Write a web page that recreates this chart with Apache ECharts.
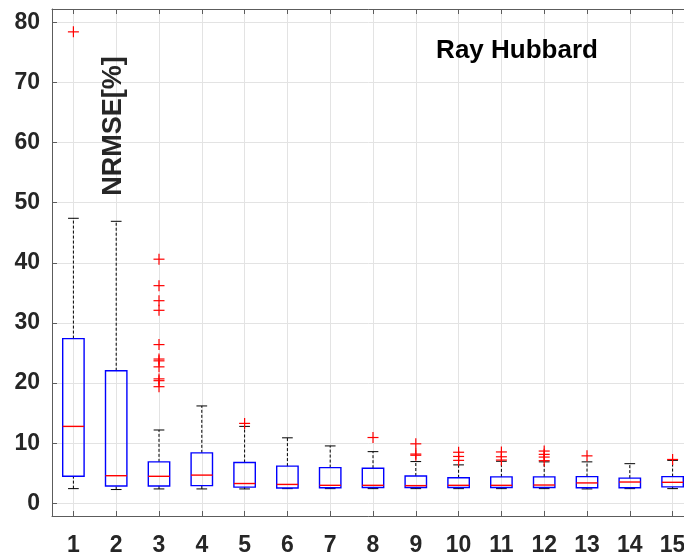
<!DOCTYPE html>
<html>
<head>
<meta charset="utf-8">
<script src="https://cdn.jsdelivr.net/npm/echarts@6/dist/echarts.min.js"></script>
<style>
  html, body { margin: 0; padding: 0; background: #ffffff; }
  #chart { width: 684px; height: 552px; }
</style>
</head>
<body>
<div id="chart"></div>
<script>
// Lead-time groups on the x axis
const categories = [1, 2, 3, 4, 5, 6, 7, 8, 9, 10, 11, 12, 13, 14, 15];

// Box statistics of NRMSE [%] per group
const whiskerLow  = [2.45, 2.3, 2.4, 2.4, 2.4, 2.45, 2.45, 2.45, 2.45, 2.45, 2.45, 2.45, 2.4, 2.45, 2.45];
const q1          = [4.5, 2.9, 2.9, 2.95, 2.7, 2.55, 2.6, 2.65, 2.65, 2.65, 2.65, 2.65, 2.6, 2.6, 2.75];
const median      = [12.8, 4.6, 4.5, 4.7, 3.3, 3.15, 3.0, 3.0, 2.95, 3.0, 3.0, 3.05, 3.4, 3.55, 3.5];
const q3          = [27.4, 22.05, 6.9, 8.4, 6.8, 6.2, 5.95, 5.85, 4.55, 4.25, 4.4, 4.4, 4.45, 4.2, 4.45];
const whiskerHigh = [47.4, 46.9, 12.2, 16.2, 12.8, 10.9, 9.55, 8.6, 6.95, 6.4, 7.0, 6.9, 6.9, 6.6, 7.15];

// Outliers per group
const outliers = [
  [78.4],
  [],
  [40.6, 36.2, 33.7, 32.1, 26.4, 24.0, 23.7, 22.7, 20.7, 20.4, 19.4],
  [],
  [13.3],
  [],
  [],
  [10.95],
  [9.9, 8.2, 8.0],
  [8.5, 7.8, 7.15],
  [8.55, 7.75, 7.2],
  [8.7, 8.15, 7.7, 7.1],
  [7.9],
  [],
  [7.3]
];

// Axis tick values
const xTicks = categories;
const yTicks = [0, 10, 20, 30, 40, 50, 60, 70, 80];

const titleText = 'Ray Hubbard';
const yLabelText = 'NRMSE[%]';

const FONT = '"Liberation Sans", Arial, Helvetica, sans-serif';
const TEXT_COLOR = '#262626';
const AXIS_COLOR = '#5c5c5c';
const GRID_COLOR = '#e3e3e3';
const BOX_WIDTH = 0.5;   // in x-axis units
const CAP_WIDTH = 0.25;  // in x-axis units

const boxData = categories.map((c, i) => [c, whiskerLow[i], q1[i], median[i], q3[i], whiskerHigh[i]]);
const outlierData = [];
categories.forEach((c, i) => outliers[i].forEach(v => outlierData.push([c, v])));

function isTick(list, v) {
  return list.some(t => Math.abs(t - v) < 1e-6);
}

const chart = echarts.init(document.getElementById('chart'), null, { renderer: 'canvas' });

const option = {
  animation: false,
  backgroundColor: '#ffffff',
  // the plot box runs a little past the right edge of the canvas
  grid: { left: 52, top: 9, width: 642, height: 507, containLabel: false, outerBoundsMode: 'none' },
  xAxis: [
    {
      type: 'value',
      position: 'bottom',
      min: 0.5,
      max: 15.5,
      minInterval: 1,
      maxInterval: 1,
      axisLine: { show: true, onZero: false, lineStyle: { color: AXIS_COLOR, width: 1 } },
      axisTick: { show: true, inside: true, length: 5, lineStyle: { color: AXIS_COLOR } },
      axisLabel: {
        show: true,
        margin: 18,
        fontSize: 23,
        fontWeight: 'bold',
        fontFamily: FONT,
        color: TEXT_COLOR,
        formatter: v => (isTick(xTicks, v) ? String(Math.round(v)) : '')
      },
      splitLine: { show: true, lineStyle: { color: GRID_COLOR, width: 1 } }
    },
    {
      type: 'value',
      position: 'top',
      min: 0.5,
      max: 15.5,
      minInterval: 1,
      maxInterval: 1,
      axisLine: { show: true, onZero: false, lineStyle: { color: AXIS_COLOR, width: 1 } },
      axisTick: { show: true, inside: true, length: 5, lineStyle: { color: AXIS_COLOR } },
      axisLabel: { show: false },
      splitLine: { show: false }
    }
  ],
  yAxis: [
    {
      type: 'value',
      min: -2.1,
      max: 82.2,
      minInterval: 10,
      maxInterval: 10,
      axisLine: { show: true, onZero: false, lineStyle: { color: AXIS_COLOR, width: 1 } },
      axisTick: { show: true, inside: true, length: 5, lineStyle: { color: AXIS_COLOR } },
      axisLabel: {
        show: true,
        margin: 12,
        fontSize: 23,
        fontWeight: 'bold',
        fontFamily: FONT,
        color: TEXT_COLOR,
        formatter: v => (isTick(yTicks, v) ? String(Math.round(v)) : '')
      },
      splitLine: { show: true, lineStyle: { color: GRID_COLOR, width: 1 } }
    }
  ],
  graphic: [
    {
      type: 'text',
      x: 517,
      y: 50.5,
      z: 100,
      style: {
        text: titleText,
        font: 'bold 26px ' + FONT,
        fill: '#000000',
        textAlign: 'center',
        textVerticalAlign: 'middle'
      }
    },
    {
      type: 'text',
      x: 114,
      y: 126,
      rotation: Math.PI / 2,
      z: 100,
      style: {
        text: yLabelText,
        font: 'bold 27px ' + FONT,
        fill: TEXT_COLOR,
        textAlign: 'center',
        textVerticalAlign: 'middle'
      }
    }
  ],
  series: [
    {
      name: 'boxes',
      type: 'custom',
      xAxisIndex: 0,
      yAxisIndex: 0,
      z: 5,
      data: boxData,
      encode: { x: 0, y: [1, 2, 3, 4, 5] },
      renderItem: function (params, api) {
        const x = api.value(0);
        const pLow = api.coord([x, api.value(1)]);
        const pQ1 = api.coord([x, api.value(2)]);
        const pMed = api.coord([x, api.value(3)]);
        const pQ3 = api.coord([x, api.value(4)]);
        const pHigh = api.coord([x, api.value(5)]);
        const half = api.size([BOX_WIDTH, 0])[0] / 2;
        const capHalf = api.size([CAP_WIDTH, 0])[0] / 2;
        const cx = pQ1[0];
        const dashStyle = { stroke: '#000000', lineWidth: 1, lineDash: [3, 2] };
        const capStyle = { stroke: '#000000', lineWidth: 1 };
        return {
          type: 'group',
          children: [
            { type: 'line', shape: { x1: cx, y1: pQ3[1], x2: cx, y2: pHigh[1] }, style: dashStyle },
            { type: 'line', shape: { x1: cx, y1: pLow[1], x2: cx, y2: pQ1[1] }, style: dashStyle },
            { type: 'line', shape: { x1: cx - capHalf, y1: pHigh[1], x2: cx + capHalf, y2: pHigh[1] }, style: capStyle },
            { type: 'line', shape: { x1: cx - capHalf, y1: pLow[1], x2: cx + capHalf, y2: pLow[1] }, style: capStyle },
            {
              type: 'rect',
              shape: { x: cx - half, y: pQ3[1], width: 2 * half, height: pQ1[1] - pQ3[1] },
              style: { fill: 'none', stroke: '#0000ff', lineWidth: 1.4 }
            },
            { type: 'line', shape: { x1: cx - half, y1: pMed[1], x2: cx + half, y2: pMed[1] }, style: { stroke: '#ff0000', lineWidth: 1.4 } }
          ]
        };
      }
    },
    {
      name: 'outliers',
      type: 'custom',
      xAxisIndex: 0,
      yAxisIndex: 0,
      z: 6,
      data: outlierData,
      encode: { x: 0, y: 1 },
      renderItem: function (params, api) {
        const p = api.coord([api.value(0), api.value(1)]);
        const h = 5.5;
        const st = { stroke: '#ff0000', lineWidth: 1.2 };
        return {
          type: 'group',
          children: [
            { type: 'line', shape: { x1: p[0] - h, y1: p[1], x2: p[0] + h, y2: p[1] }, style: st },
            { type: 'line', shape: { x1: p[0], y1: p[1] - h, x2: p[0], y2: p[1] + h }, style: st }
          ]
        };
      }
    }
  ]
};

chart.setOption(option);
</script>
</body>
</html>
